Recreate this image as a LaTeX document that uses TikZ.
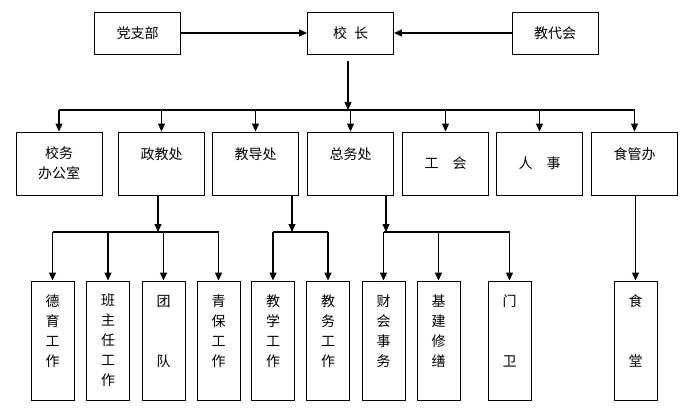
\documentclass[tikz,border=0pt]{standalone}
\usepackage{fontspec}
\setmainfont{Noto Sans CJK SC}
\usetikzlibrary{arrows.meta}
\begin{document}
\begin{tikzpicture}[x=1pt, y=-1pt, >={Triangle[length=8pt,width=7pt]},
  box/.style={draw, line width=.9pt, minimum width=86pt, minimum height=42pt, inner sep=0pt,
    font=\fontsize{14}{20}\selectfont, align=center},
  dept/.style={box, minimum height=63pt},
  unit/.style={box, minimum width=43pt, minimum height=119pt},
  link/.style={line width=1.2pt}]
\useasboundingbox (0,0) rectangle (687,417);
\node[box] (dzb) at (137.5,33) {党支部};
\node[box] (xz) at (350.5,33) {校\hspace{.5em}长};
\node[box] (jdh) at (555,33) {教代会};

\node[dept] (xwb) at (59,163.5) {校务\\办公室};
\node[dept] (zjc) at (161.5,163.5) {政教处\\\mbox{}};
\node[dept] (jdc) at (255.5,163.5) {教导处\\\mbox{}};
\node[dept] (zwc) at (350.5,163.5) {总务处\\\mbox{}};
\node[dept] (gh) at (445.5,163.5) {工\quad 会};
\node[dept] (rs) at (539.5,163.5) {人\quad 事};
\node[dept] (sgb) at (634.5,163.5) {食管办\\\mbox{}};

\node[unit] (dy) at (52.5,340.5) {德\\育\\工\\作\\\mbox{}};
\node[unit] (bzr) at (108,340.5) {班\\主\\任\\工\\作};
\node[unit] (td) at (163.5,340.5) {团\\\mbox{}\\\mbox{}\\队\\\mbox{}};
\node[unit] (qb) at (218.5,340.5) {青\\保\\工\\作\\\mbox{}};
\node[unit] (jx) at (273,340.5) {教\\学\\工\\作\\\mbox{}};
\node[unit] (jw) at (328,340.5) {教\\务\\工\\作\\\mbox{}};
\node[unit] (ckw) at (383.5,340.5) {财\\会\\事\\务\\\mbox{}};
\node[unit] (jj) at (438.5,340.5) {基\\建\\修\\缮\\\mbox{}};
\node[unit] (mw) at (509.5,340.5) {门\\\mbox{}\\\mbox{}\\卫\\\mbox{}};
\node[unit] (st) at (635.5,340.5) {食\\\mbox{}\\\mbox{}\\堂\\\mbox{}};

\draw[link,->] (dzb) -- (xz);
\draw[link,->] (jdh) -- (xz);
\coordinate (bar) at (348,110);
\draw[link,->] ([yshift=-7pt]xz.south -| bar) -- (bar);
\draw[link] (bar -| xwb) -- (bar -| sgb);
\draw[link,->] (bar -| xwb) -- (xwb);
\draw[link,->] (bar -| zjc) -- (zjc);
\draw[link,->] (bar -| jdc) -- (jdc);
\draw[link,->] (bar -| zwc) -- (zwc);
\draw[link,->] (bar -| gh) -- (gh);
\draw[link,->] (bar -| rs) -- (rs);
\draw[link,->] (bar -| sgb) -- (sgb);

\coordinate (b1) at (158,232);
\coordinate (b2) at (292,232);
\coordinate (b3) at (386,232);
\draw[link,->] (zjc.south -| b1) -- (b1);
\draw[link] (b1 -| dy) -- (b1 -| qb);
\draw[link,->] (b1 -| dy) -- (dy);
\draw[link,->] (b1 -| bzr) -- (bzr);
\draw[link,->] (b1 -| td) -- (td);
\draw[link,->] (b1 -| qb) -- (qb);

\draw[link,->] (jdc.south -| b2) -- (b2);
\draw[link] (b2 -| jx) -- (b2 -| jw);
\draw[link,->] (b2 -| jx) -- (jx);
\draw[link,->] (b2 -| jw) -- (jw);

\draw[link,->] (zwc.south -| b3) -- (b3);
\draw[link] (b3 -| ckw) -- (b3 -| mw);
\draw[link,->] (b3 -| ckw) -- (ckw);
\draw[link,->] (b3 -| jj) -- (jj);
\draw[link,->] (b3 -| mw) -- (mw);

\draw[link,->] (sgb.south -| st) -- (st);
\end{tikzpicture}
\end{document}
